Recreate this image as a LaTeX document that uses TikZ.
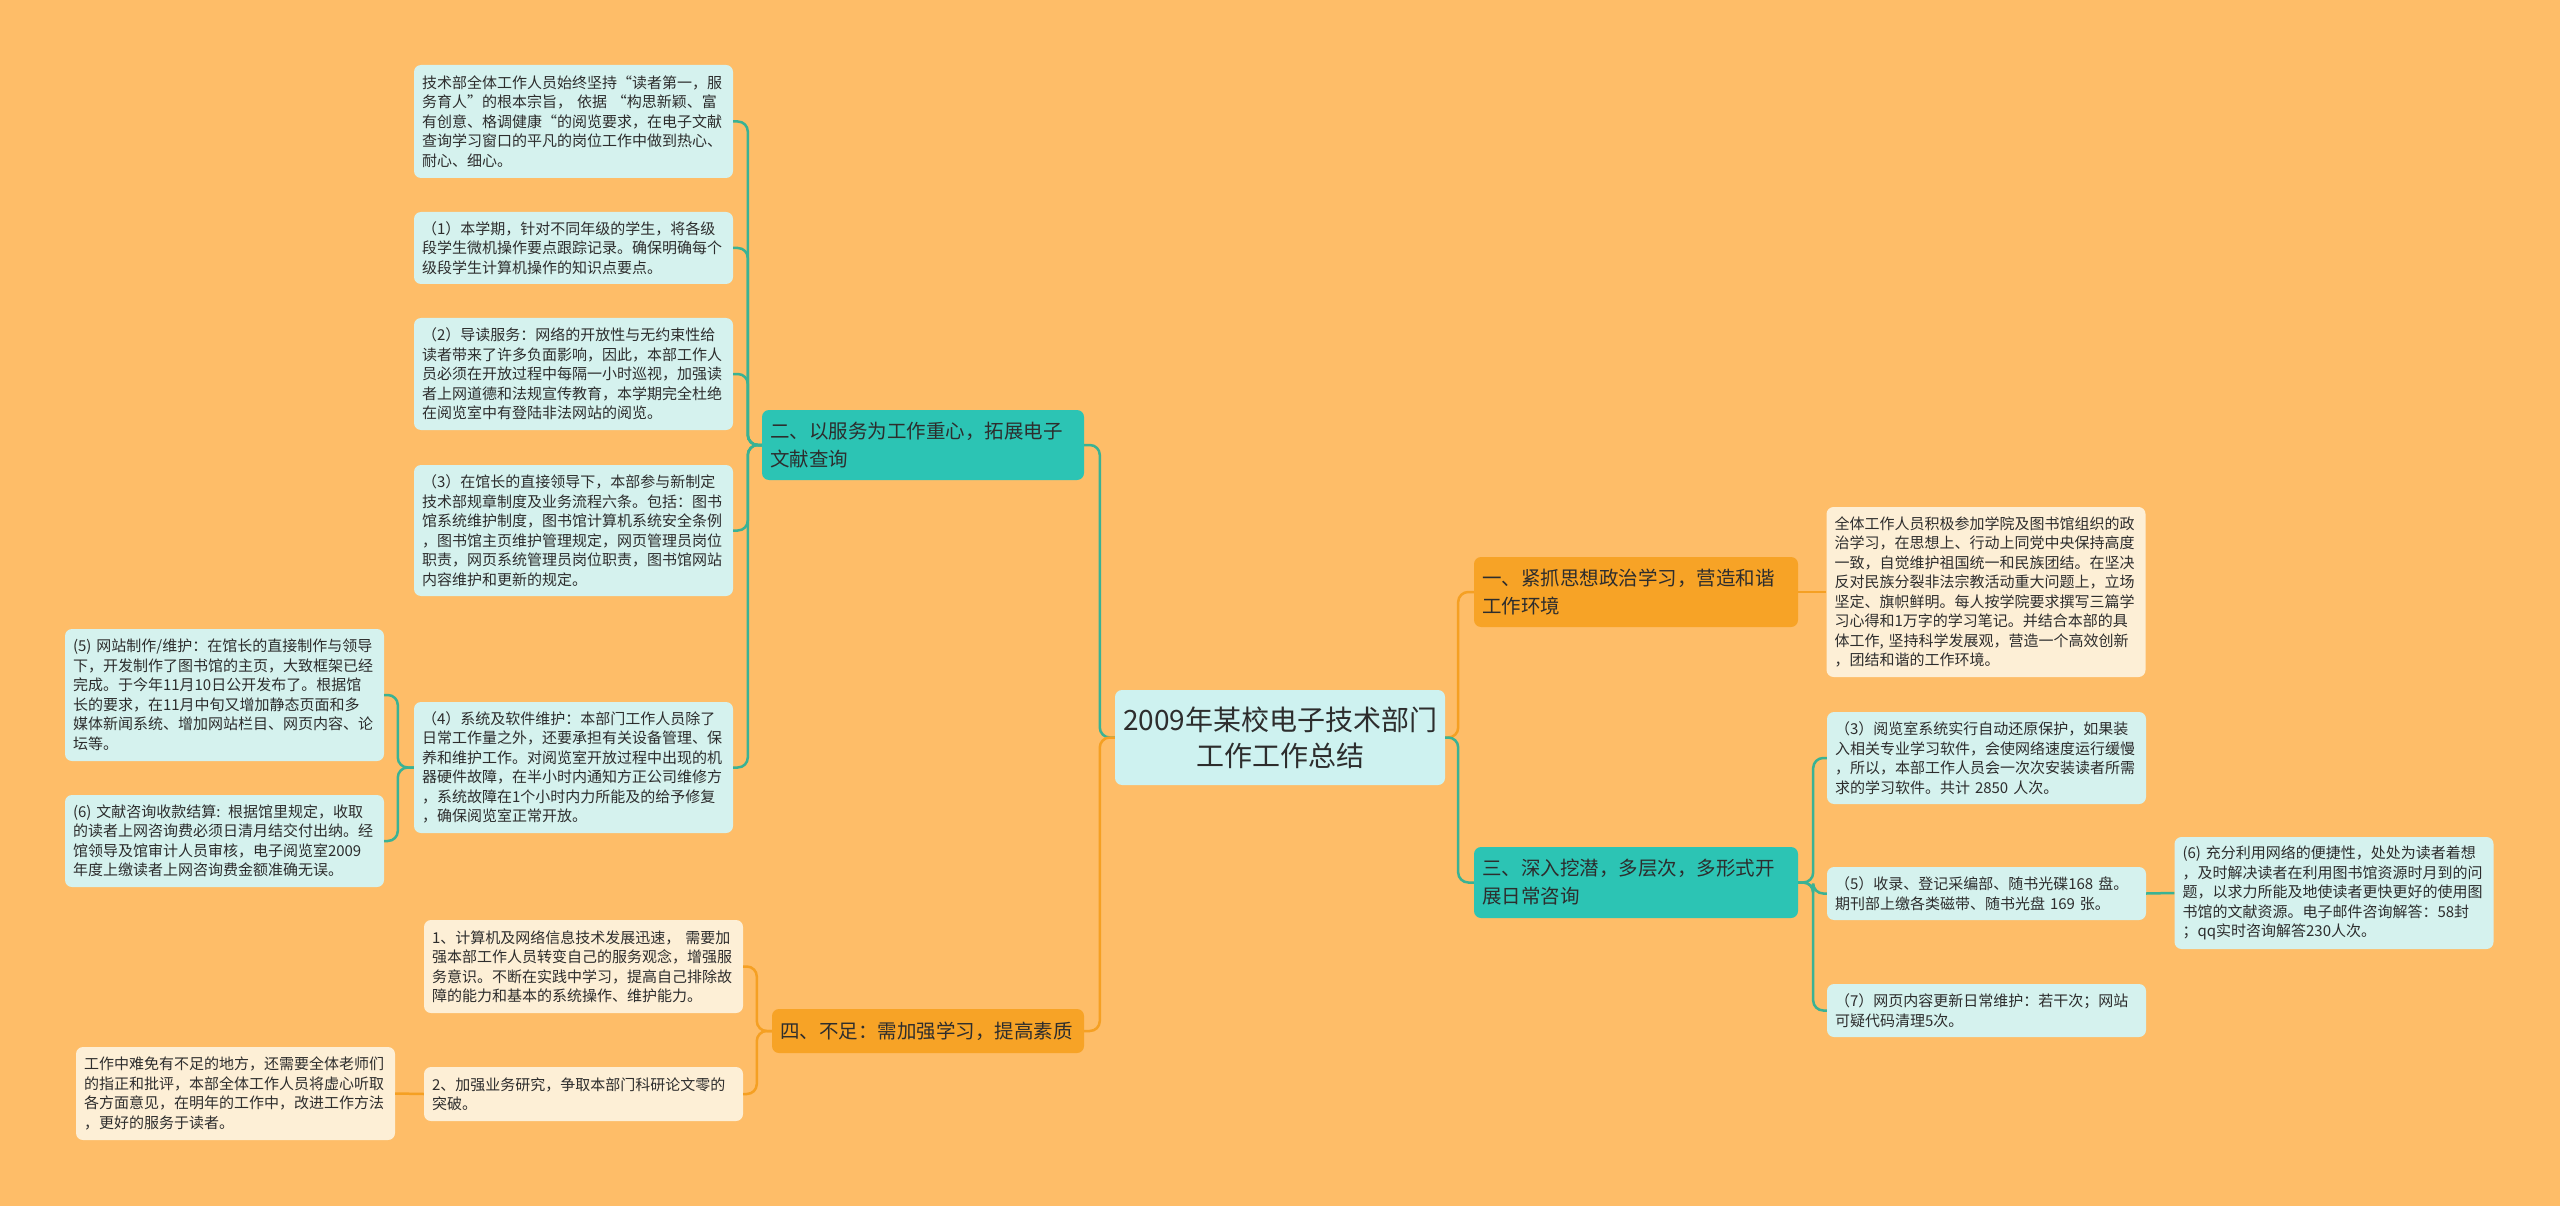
\documentclass[tikz,border=0pt]{standalone}
\usepackage{fontspec}
\setmainfont{Noto Sans CJK SC}
\definecolor{bgc}{RGB}{254,189,104}
\definecolor{brorange}{RGB}{247,163,38}
\definecolor{brteal}{RGB}{44,196,180}
\definecolor{leafteal}{RGB}{213,242,238}
\definecolor{rootfill}{RGB}{206,242,240}
\definecolor{cream}{RGB}{253,239,214}
\definecolor{lineteal}{RGB}{58,178,148}
\definecolor{lineorange}{RGB}{245,160,35}
\definecolor{txt}{RGB}{45,45,45}
\newcommand\leaffont{\fontsize{15}{19.5}\selectfont}
\newcommand\brfont{\fontsize{19.5}{28}\selectfont}
\newcommand\rootfont{\fontsize{28}{36}\selectfont}
\tikzset{
  base/.style={rectangle, rounded corners=7pt, text=txt, inner xsep=8pt, inner ysep=0pt},
  leafT/.style={base, fill=leafteal, font=\leaffont, align=left, text width=303pt},
  leafC/.style={base, fill=cream, font=\leaffont, align=left, text width=303pt},
  brO/.style={base, fill=brorange, font=\brfont, align=left},
  brT/.style={base, fill=brteal, font=\brfont, align=left},
  rootbox/.style={base, fill=rootfill, font=\rootfont, align=center, text width=314pt},
  lnT/.style={draw=lineteal, line width=2.5pt, rounded corners=10pt},
  lnO/.style={draw=lineorange, line width=2.5pt, rounded corners=10pt}
}
\begin{document}
\begin{tikzpicture}[x=1pt,y=-1pt]
\fill[bgc] (0,0) rectangle (2560,1206);
\useasboundingbox (0,0) rectangle (2560,1206);

% root
\node[rootbox, minimum height=95pt] (root) at (1280,737.5) {2009年某校电子技术部门\\工作工作总结};

% branches
\node[brT, text width=306pt, minimum height=70pt] (b2) at (923,445) {二、以服务为工作重心，拓展电子\\文献查询};
\node[brO, text width=296pt, minimum height=44pt] (b4) at (928,1031) {四、不足：需加强学习，提高素质};
\node[brO, text width=308pt, minimum height=70pt] (b1) at (1636,592) {一、紧抓思想政治学习，营造和谐\\工作环境};
\node[brT, text width=308pt, minimum height=71pt] (b3) at (1636,882.5) {三、深入挖潜，多层次，多形式开\\展日常咨询};

% branch 二 children
\node[leafT, minimum height=113pt] (a0) at (573.5,121.5) {技术部全体工作人员始终坚持“读者第一，服\\务育人”的根本宗旨， 依据 “构思新颖、富\\有创意、格调健康“的阅览要求，在电子文献\\查询学习窗口的平凡的岗位工作中做到热心、\\耐心、细心。};
\node[leafT, minimum height=72pt] (a1) at (573.5,248) {（1）本学期，针对不同年级的学生，将各级\\段学生微机操作要点跟踪记录。确保明确每个\\级段学生计算机操作的知识点要点。};
\node[leafT, minimum height=112pt] (a2) at (573.5,374) {（2）导读服务：网络的开放性与无约束性给\\读者带来了许多负面影响，因此，本部工作人\\员必须在开放过程中每隔一小时巡视，加强读\\者上网道德和法规宣传教育，本学期完全杜绝\\在阅览室中有登陆非法网站的阅览。};
\node[leafT, minimum height=131pt] (a3) at (573.5,530.5) {（3）在馆长的直接领导下，本部参与新制定\\技术部规章制度及业务流程六条。包括：图书\\馆系统维护制度，图书馆计算机系统安全条例\\，图书馆主页维护管理规定，网页管理员岗位\\职责，网页系统管理员岗位职责，图书馆网站\\内容维护和更新的规定。};
\node[leafT, minimum height=131pt] (a4) at (573.5,767.5) {（4）系统及软件维护：本部门工作人员除了\\日常工作量之外，还要承担有关设备管理、保\\养和维护工作。对阅览室开放过程中出现的机\\器硬件故障，在半小时内通知方正公司维修方\\，系统故障在1个小时内力所能及的给予修复\\，确保阅览室正常开放。};
\node[leafT, minimum height=132pt] (a5) at (224.5,695) {(5) 网站制作/维护：在馆长的直接制作与领导\\下，开发制作了图书馆的主页，大致框架已经\\完成。于今年11月10日公开发布了。根据馆\\长的要求，在11月中旬又增加静态页面和多\\媒体新闻系统、增加网站栏目、网页内容、论\\坛等。};
\node[leafT, minimum height=92pt] (a6) at (224.5,841) {(6) 文献咨询收款结算: 根据馆里规定，收取\\的读者上网咨询费必须日清月结交付出纳。经\\馆领导及馆审计人员审核，电子阅览室2009\\年度上缴读者上网咨询费金额准确无误。};

% branch 四 children
\node[leafC, minimum height=93pt] (q1) at (583.5,966.5) {1、计算机及网络信息技术发展迅速， 需要加\\强本部工作人员转变自己的服务观念，增强服\\务意识。不断在实践中学习，提高自己排除故\\障的能力和基本的系统操作、维护能力。};
\node[leafC, minimum height=54pt] (q2) at (583.5,1094) {2、加强业务研究，争取本部门科研论文零的\\突破。};
\node[leafC, minimum height=93pt] (q3) at (235.5,1093.5) {工作中难免有不足的地方，还需要全体老师们\\的指正和批评，本部全体工作人员将虚心听取\\各方面意见，在明年的工作中，改进工作方法\\，更好的服务于读者。};

% branch 一 child
\node[leafC, minimum height=170pt] (e1) at (1986,592) {全体工作人员积极参加学院及图书馆组织的政\\治学习，在思想上、行动上同党中央保持高度\\一致，自觉维护祖国统一和民族团结。在坚决\\反对民族分裂非法宗教活动重大问题上，立场\\坚定、旗帜鲜明。每人按学院要求撰写三篇学\\习心得和1万字的学习笔记。并结合本部的具\\体工作, 坚持科学发展观，营造一个高效创新\\，团结和谐的工作环境。};

% branch 三 children
\node[leafT, minimum height=92pt] (r3) at (1986.5,758) {（3）阅览室系统实行自动还原保护，如果装\\入相关专业学习软件，会使网络速度运行缓慢\\，所以，本部工作人员会一次次安装读者所需\\求的学习软件。共计 2850 人次。};
\node[leafT, minimum height=53pt] (r5) at (1986.5,893.5) {（5）收录、登记采编部、随书光碟168 盘。\\期刊部上缴各类磁带、随书光盘 169 张。};
\node[leafT, minimum height=53pt] (r7) at (1986.5,1010.5) {（7）网页内容更新日常维护：若干次；网站\\可疑代码清理5次。};
\node[leafT, minimum height=112pt] (r6) at (2334,893) {(6) 充分利用网络的便捷性，处处为读者着想\\，及时解决读者在利用图书馆资源时月到的问\\题，以求力所能及地使读者更快更好的使用图\\书馆的文献资源。电子邮件咨询解答：58封\\；qq实时咨询解答230人次。};

% connectors
\draw[lnT] (root.west) -- ++(-15,0) |- (b2.east);
\draw[lnO] (root.west) -- ++(-15,0) |- (b4.east);
\draw[lnO] (root.east) -- ++(13,0) |- (b1.west);
\draw[lnT] (root.east) -- ++(13,0) |- (b3.west);

\foreach \c in {a0,a1,a2,a3,a4}{\draw[lnT] (b2.west) -- ++(-14,0) |- (\c.east);}
\foreach \c in {a5,a6}{\draw[lnT] (a4.west) -- ++(-16,0) |- (\c.east);}
\foreach \c in {q1,q2}{\draw[lnO] (b4.west) -- ++(-15,0) |- (\c.east);}
\draw[lnO] (q2.west) -- (q3.east);
\draw[lnO] (b1.east) -- (e1.west);
\foreach \c in {r3,r5,r7}{\draw[lnT] (b3.east) -- ++(15,0) |- (\c.west);}
\draw[lnT] (r5.east) -- (r6.west);
\end{tikzpicture}
\end{document}
